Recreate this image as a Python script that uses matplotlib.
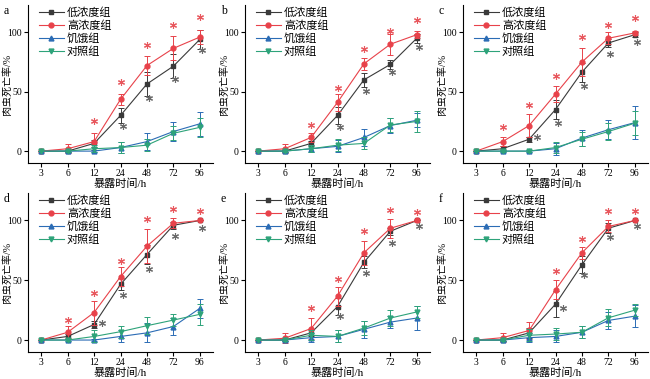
import matplotlib.pyplot as plt

times = ['3', '6', '12', '24', '48', '72', '96']
panels = ['a', 'b', 'c', 'd', 'e', 'f']
groups = ['低浓度组', '高浓度组', '饥饿组', '对照组']

low_mean = [
    [0, 0, 6.5, 30, 56.5, 71.5, 94],
    [0, 0, 6.5, 30, 60, 73, 95],
    [0, 2, 10, 35, 66.5, 91, 98],
    [0, 3, 13, 46.5, 71.5, 96, 100],
    [0, 0, 6, 28, 65, 91, 100],
    [0, 0, 6, 30, 63, 93.5, 100],
]
low_err = [
    [0, 1, 3, 6, 10, 10, 8],
    [0, 1, 2, 7, 6, 4, 4],
    [0, 2, 2, 8, 8, 3, 2],
    [0, 2, 3, 5, 8, 3, 0],
    [0, 1, 3, 7, 5, 3, 0],
    [0, 1, 4, 11, 7, 4, 0],
]
high_mean = [
    [0, 2, 8, 43.5, 72, 86.5, 96],
    [0, 2, 11.5, 41, 73.5, 90, 98],
    [0, 8, 21.5, 48, 75, 95, 99.5],
    [0, 6.5, 23, 53, 78.5, 97.7, 100],
    [0, 1.5, 9.6, 36.7, 73, 93.5, 100],
    [0, 2, 8, 42, 73, 95, 100],
]
high_err = [
    [0, 4, 7, 5, 8, 10, 6],
    [0, 4, 4, 7, 5, 9, 3],
    [0, 4, 10, 7, 12, 5, 2],
    [0, 5, 10, 8, 14, 4, 0],
    [0, 4, 9, 8, 10, 8, 1],
    [0, 4, 7, 8, 5, 5, 0],
]
starve_mean = [
    [0, 0, 0, 3, 8, 16.5, 23],
    [0, 0, 2, 4, 11.5, 21.5, 26],
    [0, 0, 0, 2, 11, 18, 24],
    [0, 0, 0, 3, 6, 11.3, 26.5],
    [0, 0, 2, 3, 9, 15, 18.4],
    [0, 0, 2, 3, 6.5, 16.4, 20],
]
starve_err = [
    [0, 1, 1, 5, 7, 8, 10],
    [0, 1, 3, 5, 7, 6, 6],
    [0, 1, 1, 5, 7, 8, 14],
    [0, 1, 1, 5, 8, 7, 8],
    [0, 1, 4, 5, 7, 5, 10],
    [0, 1, 4, 5, 5, 7, 9],
]
ctrl_mean = [
    [0, 0, 2, 3, 5, 15, 20],
    [0, 0, 2, 5, 6.5, 22, 25],
    [0, 0, 0, 3, 10, 16.5, 23.5],
    [0, 0, 3, 7, 12, 16.7, 21.5],
    [0, 0, 4, 3, 10, 18.4, 23.5],
    [0, 0, 4, 5, 6.5, 18.6, 25],
]
ctrl_err = [
    [0, 1, 3, 5, 5, 6, 8],
    [0, 1, 3, 5, 5, 6, 9],
    [0, 1, 1, 5, 6, 7, 10],
    [0, 1, 5, 5, 7, 5, 9],
    [0, 1, 4, 5, 6, 7, 5],
    [0, 1, 5, 5, 5, 7, 5],
]
# asterisk levels (None = no mark)
high_star = [
    [None, None, 25.7, 58, 89, 106, 113],
    [None, None, 22, 53, 86, 101.5, 110],
    [None, 20, 39, 63, 96, 106, 112],
    [None, 17, 39, 66.5, 101, 110, 107.6],
    [None, None, 26.5, 51, 91, 108.5, 107],
    [None, None, None, 57.6, 84.5, 107.6, 107.6],
]
low_star = [
    [None, None, None, 21, 44.6, 61, 85],
    [None, None, None, 20, 50.5, 67, 88],
    [None, None, 11.5, 24, 55, 82, 92],
    [None, None, 14, 38, 59.6, 87, 93.5],
    [None, None, None, 20, 56.5, 81, 95],
    [None, None, None, 27, 54, 86, 95],
]

colors = ['#3a3a3a', '#e8424a', '#2b6cb5', '#2ea37a']
markers = ['s', 'o', '^', 'v']
star_colors = ['#e8585e', '#6a6a6a']
fam = ['Liberation Serif', 'Noto Sans CJK SC']
plt.rcParams['font.family'] = fam

fig = plt.figure(figsize=(6.5, 3.79), dpi=100)
W, H = 650, 379
lefts = [28, 245, 463]
rows = [(5, 163), (193, 352)]

x = list(range(len(times)))
for i, p in enumerate(panels):
    l = lefts[i % 3]
    top, bot = rows[i // 3]
    ax = fig.add_axes([l / W, 1 - bot / H, 185 / W, (bot - top) / H])
    series = [(low_mean[i], low_err[i]), (high_mean[i], high_err[i]),
              (starve_mean[i], starve_err[i]), (ctrl_mean[i], ctrl_err[i])]
    for k, (m, e) in enumerate(series):
        ax.errorbar(x, m, yerr=e, fmt='none', ecolor=colors[k], elinewidth=0.7,
                    capsize=2, capthick=0.7, zorder=2 + k)
        ax.plot(x, m, color=colors[k], marker=markers[k], ms=3.5, lw=0.8,
                label=groups[k], zorder=3 + k)
    for j in x:
        if high_star[i][j] is not None:
            ax.plot(j, high_star[i][j], marker=(6, 2, 0), ms=5, mew=0.8,
                    color=star_colors[0], ls='none')
        if low_star[i][j] is not None:
            lower = low_mean[i][j] - low_err[i][j]
            dx = 0.3 if low_star[i][j] > lower else 0.08
            ax.plot(j + dx, low_star[i][j], marker=(6, 2, 0), ms=5, mew=0.8,
                    color=star_colors[1], ls='none')
    ax.set_xlim(-0.5, 6.5)
    ax.set_ylim(-10, 123)
    ax.set_xticks(x)
    ax.set_xticklabels(times)
    ax.set_yticks([0, 50, 100])
    ax.spines['top'].set_visible(False)
    ax.spines['right'].set_visible(False)
    ax.spines['left'].set_linewidth(0.8)
    ax.spines['bottom'].set_linewidth(0.8)
    ax.tick_params(labelsize=7, length=3, width=0.8, pad=1.5)
    ax.set_xlabel('暴露时间/h', fontsize=8, labelpad=0.5)
    ax.set_ylabel('肉虫死亡率/%', fontsize=7.2, va='center')
    ax.yaxis.set_label_coords(-0.113, 0.5)
    ax.text(-0.13, 1.0, p, transform=ax.transAxes, fontsize=8.5,
            ha='left', va='top')
    ax.legend(loc='upper left', frameon=False, fontsize=8, handlelength=2.2,
              handletextpad=0.3, labelspacing=0.2, borderaxespad=0.1,
              bbox_to_anchor=(0.03, 1.02))

fig.savefig('out.png', dpi=100)
